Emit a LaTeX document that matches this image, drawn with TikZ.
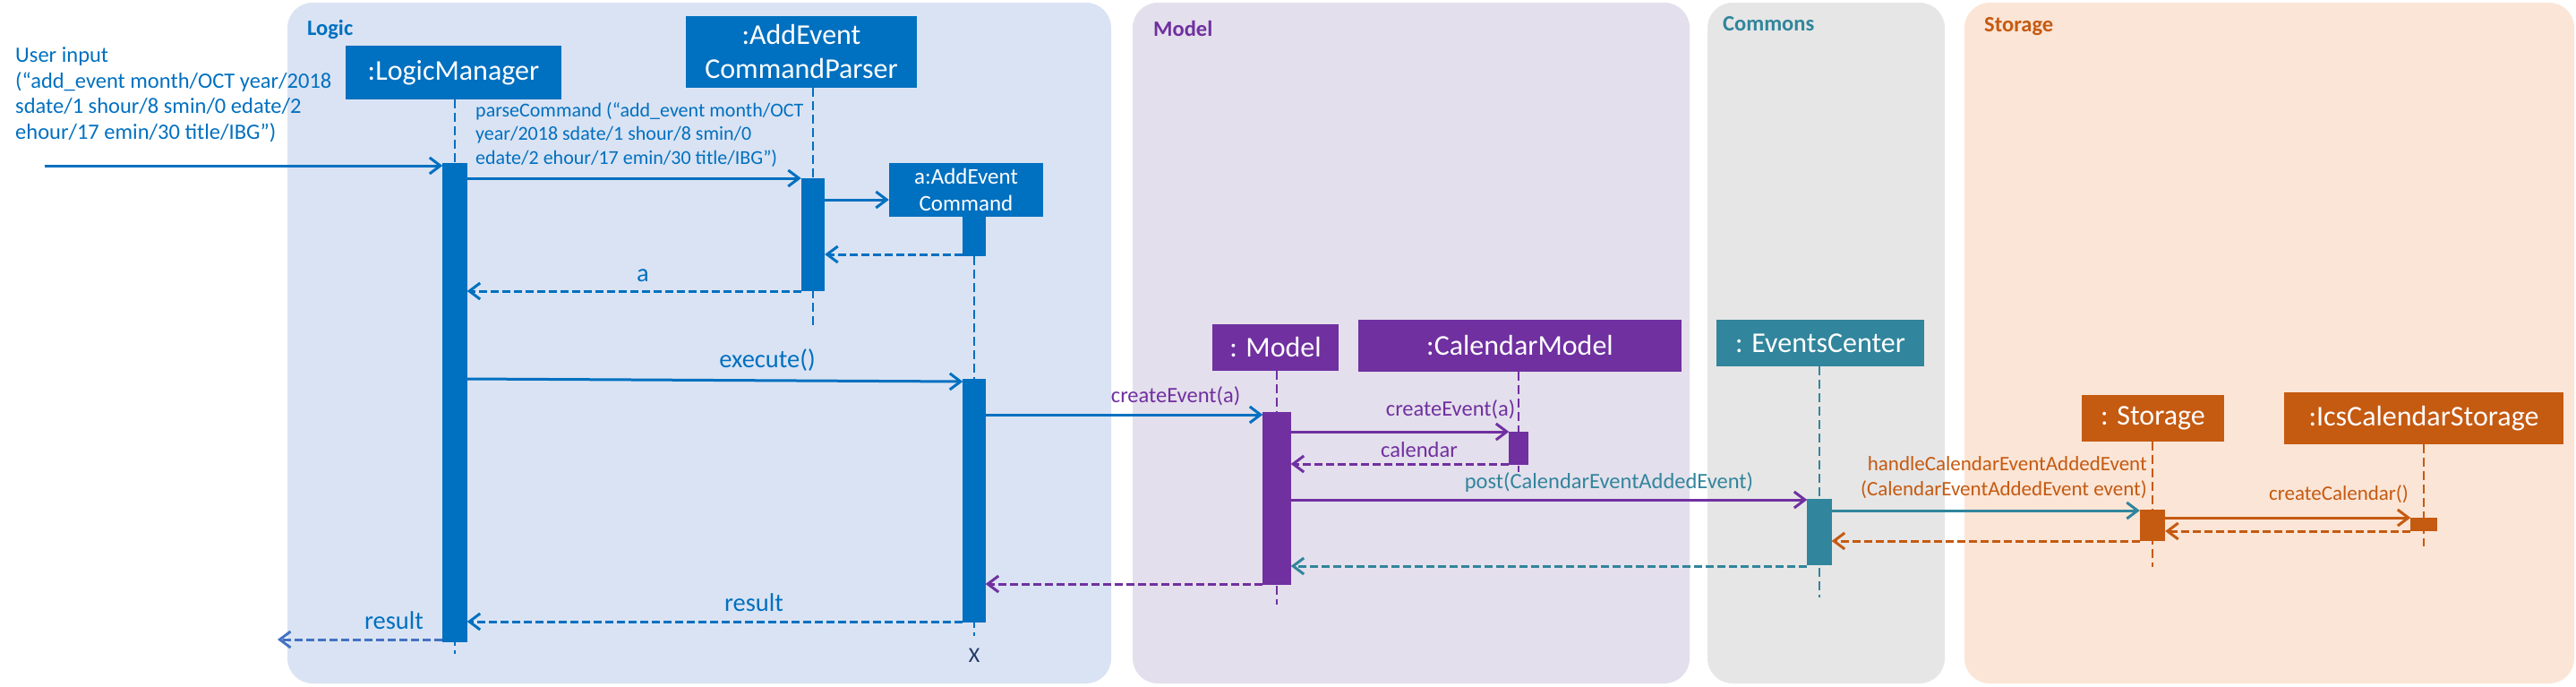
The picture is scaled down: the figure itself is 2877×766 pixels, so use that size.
\documentclass[tikz,border=0pt]{standalone}
\usepackage{fontspec}
\setmainfont{Carlito}
\usetikzlibrary{arrows.meta}
\definecolor{cblue}{HTML}{0070C0}
\definecolor{cpurple}{HTML}{7030A0}
\definecolor{cteal}{HTML}{31859C}
\definecolor{corange}{HTML}{C55A11}
\definecolor{fblue}{HTML}{DAE3F3}
\definecolor{fpurple}{HTML}{E4DFEC}
\definecolor{fgray}{HTML}{E6E6E6}
\definecolor{forange}{HTML}{FBE5D6}
\definecolor{cres}{HTML}{4472C4}
\definecolor{cx}{HTML}{203864}
\newcommand\fsz[2]{\fontsize{#1}{#2}\selectfont}
\tikzset{
  panel/.style={fill=#1, draw=none, rounded corners=28pt},
  paneltitle/.style={text=#1, anchor=west, inner sep=0pt, font=\fsz{24.5}{29}\bfseries},
  obj/.style={fill=#1, text=white, inner sep=0pt, align=center, font=\fsz{32}{38}},
  actbar/.style={fill=#1, draw=none, inner sep=0pt, anchor=north},
  lifeline/.style={draw=#1, line width=2.5pt, dash pattern=on 10pt off 5pt},
  msg/.style={draw=#1, line width=3pt, -{Straight Barb[length=12pt,width=18pt]}},
  ret/.style={msg=#1, dash pattern=on 9pt off 4pt},
  lbl/.style={text=#1, inner sep=0pt, font=\fsz{24.5}{29}},
  biglbl/.style={text=#1, inner sep=0pt, font=\fsz{28.5}{33}},
}
\begin{document}
\begin{tikzpicture}[x=1pt,y=-1pt]
\useasboundingbox (0,0) rectangle (2877,766);
% panels
\fill[panel=fblue] (321,3) rectangle (1241,763);
\fill[panel=fpurple] (1265,3) rectangle (1887,763);
\fill[panel=fgray] (1907,3) rectangle (2172,763);
\fill[panel=forange] (2194,3) rectangle (2875,763);
\node[paneltitle=cblue] (tlogic) at (343,33) {Logic};
\node[paneltitle=cpurple] (tmodel) at (1288,32) {Model};
\node[paneltitle=cteal] (tcommons) at (1924,27) {Commons};
\node[paneltitle=corange] (tstorage) at (2216,30) {Storage};

% object boxes
\node[obj=cblue, minimum width=241pt, minimum height=60pt] (lm) at (506.5,81) {:LogicManager};
\node[obj=cblue, minimum width=258pt, minimum height=80pt] (parser) at (895,58) {:AddEvent\\CommandParser};
\node[obj=cblue, minimum width=172pt, minimum height=60pt, font=\fsz{25}{30}] (aec) at (1079,212) {a:AddEvent\\Command};
\node[obj=cpurple, minimum width=141pt, minimum height=52pt] (model) at (1424.5,388) {: Model};
\node[obj=cpurple, minimum width=361pt, minimum height=58pt] (cm) at (1697.5,386) {:CalendarModel};
\node[obj=cteal, minimum width=232pt, minimum height=52pt] (ec) at (2033,383) {: EventsCenter};
\node[obj=corange, minimum width=159pt, minimum height=52pt] (st) at (2404.5,467) {: Storage};
\node[obj=corange, minimum width=312pt, minimum height=58pt] (ics) at (2707,467) {:IcsCalendarStorage};

% activation bars (defined first for lifeline x positions)
\path
  node[actbar=cblue, minimum width=27pt, minimum height=535pt] (lmbar) at (508,182) {}
  node[actbar=cblue, minimum width=26pt, minimum height=126pt] (pbar) at (908,199) {}
  node[actbar=cblue, minimum width=25pt, minimum height=44pt] (aecbar1) at (1088,242) {}
  node[actbar=cblue, minimum width=25pt, minimum height=272pt] (aecbar2) at (1088,423) {}
  node[actbar=cpurple, minimum width=31pt, minimum height=193pt] (mbar) at (1426,460) {}
  node[actbar=cpurple, minimum width=21pt, minimum height=37pt] (cmbar) at (1696,482) {}
  node[actbar=cteal, minimum width=27pt, minimum height=74pt] (ecbar) at (2032,557) {}
  node[actbar=corange, minimum width=28pt, minimum height=35pt] (stbar) at (2404,569) {}
  node[actbar=corange, minimum width=29pt, minimum height=15pt] (icsbar) at (2707,578) {};

% lifelines
\draw[lifeline=cblue] (lmbar |- lm.south) -- (lmbar |- 0,730);
\draw[lifeline=cblue] (pbar |- parser.south) -- (pbar |- 0,367);
\draw[lifeline=cblue] (aecbar1.south) -- (aecbar2 |- 0,710);
\draw[lifeline=cpurple] (mbar |- model.south) -- (mbar |- 0,675);
\draw[lifeline=cpurple] (cmbar |- cm.south) -- (cmbar |- 0,527);
\draw[lifeline=cteal] (ecbar |- ec.south) -- (ecbar |- 0,667);
\draw[lifeline=corange] (stbar |- st.south) -- (stbar |- 0,633);
\draw[lifeline=corange] (icsbar |- ics.south) -- (icsbar |- 0,610);

% redraw bars on top
\fill[cblue] (lmbar.north west) rectangle (lmbar.south east);
\fill[cblue] (pbar.north west) rectangle (pbar.south east);
\fill[cblue] (aecbar1.north west) rectangle (aecbar1.south east);
\fill[cblue] (aecbar2.north west) rectangle (aecbar2.south east);
\fill[cpurple] (mbar.north west) rectangle (mbar.south east);
\fill[cpurple] (cmbar.north west) rectangle (cmbar.south east);
\fill[cteal] (ecbar.north west) rectangle (ecbar.south east);
\fill[corange] (stbar.north west) rectangle (stbar.south east);
\fill[corange] (icsbar.north west) rectangle (icsbar.south east);

\node[text=cx, inner sep=0pt, font=\fsz{24}{28}] (xmark) at (1088,732) {X};

% user input
\coordinate (uinstart) at (50,185);
\coordinate (resend) at (310,714);
\node[lbl=cblue, align=left, anchor=west, font=\fsz{24.5}{28.5}] (uin) at (17,106)
  {User input\\(“add\_event month/OCT year/2018\\sdate/1 shour/8 smin/0 edate/2\\ehour/17 emin/30 title/IBG”)};
\draw[msg=cblue] (uinstart) -- (lmbar.west |- uinstart);

% parseCommand
\node[lbl=cblue, align=left, anchor=west, font=\fsz{22}{26.5}] (pcl) at (531,150)
  {parseCommand (“add\_event month/OCT\\year/2018 sdate/1 shour/8 smin/0\\edate/2 ehour/17 emin/30 title/IBG”)};
\draw[msg=cblue] (lmbar.east |- 0,199) -- (pbar.west |- 0,199);
\draw[msg=cblue] (pbar.east |- 0,223) -- (aec.west |- 0,223);
\draw[ret=cblue] (aecbar1.west |- 0,284) -- (pbar.east |- 0,284);
\node[biglbl=cblue] (la) at (718,308) {a};
\draw[ret=cblue] (pbar.west |- 0,325) -- (lmbar.east |- 0,325);

% execute
\node[biglbl=cblue] (lexec) at (857,402) {execute()};
\draw[msg=cblue] (lmbar.east |- 0,423) -- (aecbar2.west |- 0,426);

% createEvent to model
\node[lbl=cpurple] (lce1) at (1313,442) {createEvent(a)};
\draw[msg=cblue] (aecbar2.east |- 0,463) -- (mbar.west |- 0,463);
\node[lbl=cpurple] (lce2) at (1620,457) {createEvent(a)};
\draw[msg=cpurple] (mbar.east |- 0,482) -- (cmbar.west |- 0,482);
\node[lbl=cpurple] (lcal) at (1585,502) {calendar};
\draw[ret=cpurple] (cmbar.west |- 0,518) -- (mbar.east |- 0,518);
\node[lbl=cteal] (lpost) at (1797,539) {post(CalendarEventAddedEvent)};
\draw[msg=cpurple] (mbar.east |- 0,558) -- (ecbar.west |- 0,558);

% storage
\node[lbl=corange, align=right, anchor=east, font=\fsz{23}{28}] (lhandle) at (2398,533)
  {handleCalendarEventAddedEvent\\(CalendarEventAddedEvent event)};
\draw[msg=cteal] (ecbar.east |- 0,570) -- (stbar.west |- 0,570);
\node[lbl=corange, font=\fsz{23}{28}] (lcc) at (2612,552) {createCalendar()};
\draw[msg=corange] (stbar.east |- 0,578) -- (icsbar.west |- 0,578);
\draw[ret=corange] (icsbar.west |- 0,593) -- (stbar.east |- 0,593);
\draw[ret=corange] (stbar.west |- 0,604) -- (ecbar.east |- 0,604);

% returns
\draw[ret=cteal] (ecbar.west |- 0,632) -- (mbar.east |- 0,632);
\draw[ret=cpurple] (mbar.west |- 0,652) -- (aecbar2.east |- 0,652);
\node[biglbl=cblue] (lres1) at (842,673) {result};
\draw[ret=cblue] (aecbar2.west |- 0,694) -- (lmbar.east |- 0,694);
\node[biglbl=cblue] (lres2) at (440,693) {result};
\draw[ret=cres] (lmbar.west |- resend) -- (resend);
\end{tikzpicture}
\end{document}
